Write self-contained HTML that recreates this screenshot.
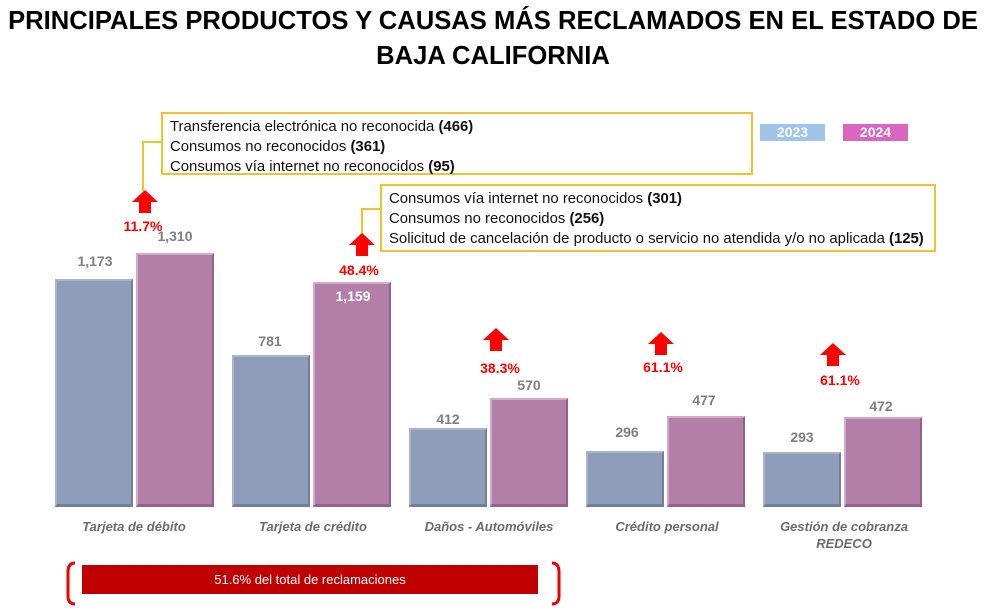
<!DOCTYPE html>
<html><head><meta charset="utf-8"><style>
body{margin:0;width:1003px;height:613px;background:#fff;position:relative;overflow:hidden;font-family:"Liberation Sans",sans-serif}
.a{position:absolute}
.t{left:0;width:986px;text-align:center;font-weight:bold;font-size:25.6px;color:#000;white-space:nowrap}
.bar{position:absolute;width:78px;box-sizing:border-box;border:2px solid;border-bottom:3px solid}
.b{background:#8d9dba;border-color:#a9b5cc #6f7f9c #6f7f9c #a9b5cc}
.p{background:#b37fa9;border-color:#d4a9cc #93628a #93628a #d4a9cc}
.v{position:absolute;width:80px;text-align:center;font-weight:bold;font-size:14px;color:#7f7f7f}
.pc{position:absolute;width:80px;text-align:center;font-weight:bold;font-size:14px;color:#f00}
.lab{position:absolute;width:170px;text-align:center;font-weight:bold;font-style:italic;font-size:13px;color:#6b6b6b;line-height:17px}
.box{position:absolute;border:2px solid #f2c12e;box-sizing:border-box;font-size:14.9px;color:#111;line-height:20px;padding:3px 0 0 7px;background:#fff;white-space:nowrap}
.ln{position:absolute;background:#f2c12e}
</style></head><body>
<div class="a t" style="top:7px">PRINCIPALES PRODUCTOS Y CAUSAS MÁS RECLAMADOS EN EL ESTADO DE</div>
<div class="a t" style="top:42px">BAJA CALIFORNIA</div>

<div class="ln" style="left:142px;top:141px;width:20px;height:2px"></div>
<div class="ln" style="left:142px;top:141px;width:2px;height:50px"></div>
<div class="box" style="left:161px;top:112px;width:592px;height:63px">Transferencia electrónica no reconocida <b>(466)</b><br>Consumos no reconocidos <b>(361)</b><br>Consumos vía internet no reconocidos <b>(95)</b></div>
<div class="ln" style="left:361px;top:208px;width:20px;height:2px"></div>
<div class="ln" style="left:361px;top:208px;width:2px;height:26px"></div>
<div class="box" style="left:380px;top:184px;width:556px;height:68px">Consumos vía internet no reconocidos <b>(301)</b><br>Consumos no reconocidos <b>(256)</b><br>Solicitud de cancelación de producto o servicio no atendida y/o no aplicada <b>(125)</b></div>

<div class="a" style="left:760px;top:124px;width:65px;height:17px;background:#9fc4e8;color:#fff;font-weight:bold;font-size:14px;text-align:center;line-height:17px">2023</div>
<div class="a" style="left:843px;top:124px;width:65px;height:17px;background:#d966c0;color:#fff;font-weight:bold;font-size:14px;text-align:center;line-height:17px">2024</div>

<svg class="a" style="left:0;top:0" width="1003" height="613">
<g fill="#f00">
<polygon points="145,190 132,202 139,202 139,213 151,213 151,202 158,202"/>
<polygon points="362,233 349,245 356,245 356,256 368,256 368,245 375,245"/>
<polygon points="496,328 483,340 490,340 490,351 502,351 502,340 509,340"/>
<polygon points="661,332 648,344 655,344 655,355 667,355 667,344 674,344"/>
<polygon points="833,343 820,355 827,355 827,366 839,366 839,355 846,355"/>
</g>
<path d="M75,563 Q68,563 68,572 L68,596 Q68,604 75,604" stroke="#e00" stroke-width="3" fill="none"/>
<path d="M552,563 Q559,563 559,572 L559,596 Q559,604 552,604" stroke="#e00" stroke-width="3" fill="none"/>
</svg>

<div class="bar b" style="left:55px;top:279px;height:228px"></div>
<div class="bar p" style="left:136px;top:253px;height:254px"></div>
<div class="bar b" style="left:232px;top:355px;height:152px"></div>
<div class="bar p" style="left:313px;top:282px;height:225px"></div>
<div class="bar b" style="left:409px;top:428px;height:79px"></div>
<div class="bar p" style="left:490px;top:398px;height:109px"></div>
<div class="bar b" style="left:586px;top:451px;height:56px"></div>
<div class="bar p" style="left:667px;top:416px;height:91px"></div>
<div class="bar b" style="left:763px;top:452px;height:55px"></div>
<div class="bar p" style="left:844px;top:417px;height:90px"></div>

<div class="v" style="left:55px;top:253px">1,173</div>
<div class="v" style="left:135px;top:228px">1,310</div>
<div class="v" style="left:230px;top:333px">781</div>
<div class="v" style="left:313px;top:288px;color:#fff">1,159</div>
<div class="v" style="left:408px;top:411px">412</div>
<div class="v" style="left:489px;top:377px">570</div>
<div class="v" style="left:587px;top:424px">296</div>
<div class="v" style="left:664px;top:392px">477</div>
<div class="v" style="left:762px;top:429px">293</div>
<div class="v" style="left:841px;top:398px">472</div>

<div class="pc" style="left:103px;top:218px">11.7%</div>
<div class="pc" style="left:319px;top:262px">48.4%</div>
<div class="pc" style="left:460px;top:360px">38.3%</div>
<div class="pc" style="left:623px;top:359px">61.1%</div>
<div class="pc" style="left:800px;top:372px">61.1%</div>

<div class="lab" style="left:49px;top:518px">Tarjeta de débito</div>
<div class="lab" style="left:228px;top:518px">Tarjeta de crédito</div>
<div class="lab" style="left:404px;top:518px">Daños - Automóviles</div>
<div class="lab" style="left:582px;top:518px">Crédito personal</div>
<div class="lab" style="left:759px;top:518px">Gestión de cobranza<br>REDECO</div>

<div class="a" style="left:82px;top:565px;width:456px;height:29px;background:#c00000;color:#fff;font-size:13px;text-align:center;line-height:29px">51.6% del total de reclamaciones</div>
</body></html>
